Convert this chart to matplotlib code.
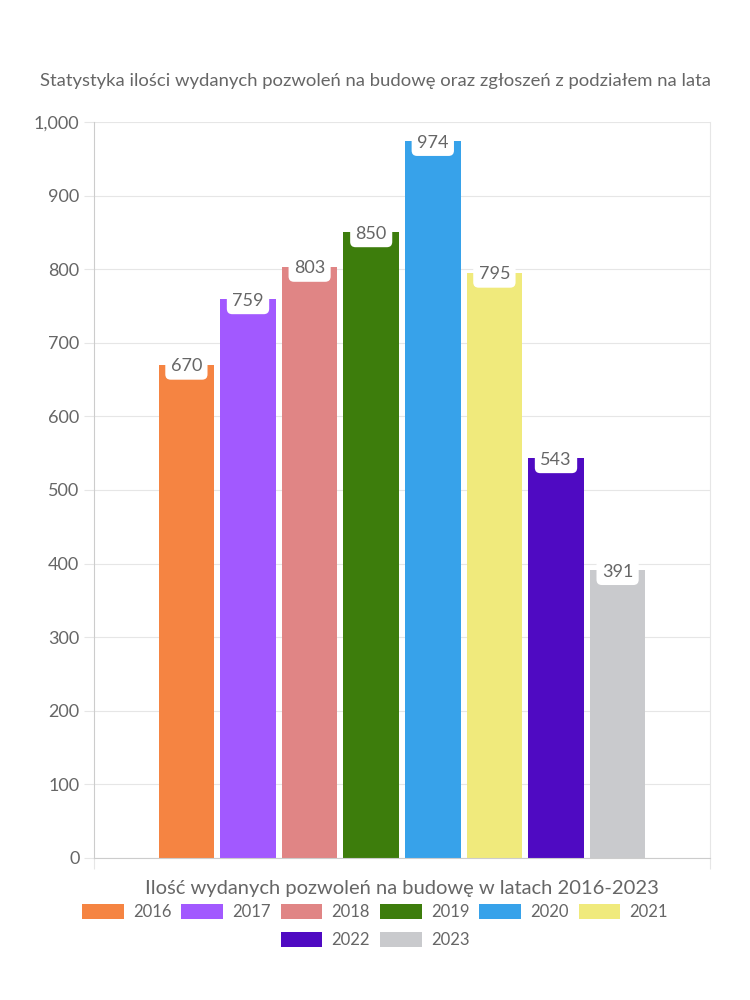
import matplotlib.pyplot as plt
from matplotlib.patches import Patch

years = ["2016", "2017", "2018", "2019", "2020", "2021", "2022", "2023"]
permits = [670, 759, 803, 850, 974, 795, 543, 391]
colors = ["#f58442", "#a259ff", "#e08585", "#3d7d0c", "#37a2ea",
          "#f0ea7c", "#4f0ac2", "#c9cacd"]

title = "Statystyka ilości wydanych pozwoleń na budowę oraz zgłoszeń z podziałem na lata"
xlabel = "Ilość wydanych pozwoleń na budowę w latach 2016-2023"

plt.rcParams['font.family'] = ['Lato', 'DejaVu Sans']
text_color = "#666666"
grid_color = "#e6e6e6"

fig = plt.figure(figsize=(7.5, 10), dpi=100)
ax = fig.add_axes([94 / 750, 142 / 1000, 616 / 750, 736 / 1000])

n = len(years)
slot = 0.8 / n
width = slot * 0.9
for i, (yr, val, col) in enumerate(zip(years, permits, colors)):
    x = (i - (n - 1) / 2) * slot
    ax.bar(x, val, width=width, color=col, label=yr, zorder=2)
    ax.annotate(str(val), (x, val), xytext=(0, -1), textcoords="offset points",
                ha="center", va="center", fontsize=13, color=text_color,
                bbox=dict(boxstyle="round,pad=0.3,rounding_size=0.3",
                          fc="white", ec="none"), zorder=3)

ax.set_xlim(-0.5, 0.5)
ax.set_ylim(0, 1000)
ax.set_yticks(range(0, 1001, 100))
ax.set_yticklabels([f"{v:,}" for v in range(0, 1001, 100)])
ax.set_xticks([-0.5, 0.5])
ax.set_xticklabels(["", ""])
ax.grid(axis="y", color=grid_color, linewidth=0.8, zorder=0)
ax.tick_params(axis="y", colors=grid_color, labelcolor=text_color,
               labelsize=13, length=7, width=0.8)
ax.tick_params(axis="x", colors=grid_color, length=8, width=0.8)
ax.spines["top"].set_visible(False)
ax.spines["right"].set_color(grid_color)
ax.spines["left"].set_color("#cccccc")
ax.spines["bottom"].set_color("#cccccc")
for s in ax.spines.values():
    s.set_linewidth(0.8)

ax.set_xlabel(xlabel, fontsize=14.5, color=text_color)
ax.xaxis.set_label_coords(0.5, -0.03)
fig.text(375 / 750, 1 - 81 / 1000, title, ha="center", va="center",
         fontsize=13.3, color=text_color)

handles = [Patch(facecolor=c) for c in colors]
leg_kw = dict(frameon=False, fontsize=12, labelcolor=text_color,
              handlelength=2.5, handleheight=1.05, columnspacing=0.6,
              handletextpad=0.55, borderpad=0)
fig.legend(handles[:6], years[:6], ncol=6, loc="center",
           bbox_to_anchor=(0.5, 1 - 912 / 1000), **leg_kw)
fig.legend(handles[6:], years[6:], ncol=2, loc="center",
           bbox_to_anchor=(0.5, 1 - 940 / 1000), **leg_kw)

fig.savefig("out.png", dpi=100, facecolor="white")
